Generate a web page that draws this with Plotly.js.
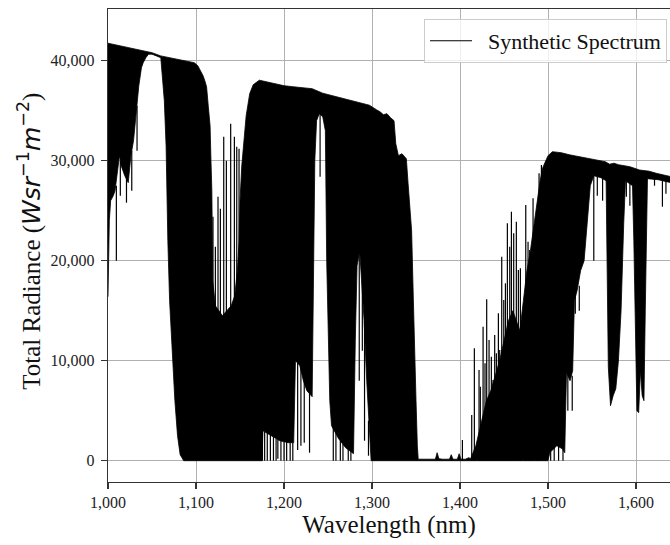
<!DOCTYPE html>
<html>
<head>
<meta charset="utf-8">
<script src="https://cdn.plot.ly/plotly-3.0.1.min.js"></script>
<style>
  html, body { margin: 0; padding: 0; background: #fff; overflow: hidden; }
  #chart { width: 670px; height: 545px; }
</style>
</head>
<body>
<div id="chart"></div>
<script>
// Upper envelope of the spectrum (nm, W sr^-1 m^-2)
const upperWl = [1000,1010,1020,1030,1040,1050,1060,1070,1080,1090,1098,1102,1105,1108,1110,1112,1114,1116,1117,1118,1119,1122,1126,1130,1135,1140,1144,1147,1149,1150,1152,1154,1157,1161,1165,1172,1180,1190,1200,1210,1220,1232,1244,1258,1271,1284,1297,1305,1309,1313,1317,1321,1325,1327,1330,1334,1339,1341,1343,1345,1347,1348.5,1350,1351.5,1352.5,1360,1372,1374,1376,1380,1388,1390,1392,1397,1399,1401,1406,1410,1412,1418,1422,1426,1430,1435,1440,1445,1450,1455,1460,1464,1468,1472,1476,1480,1484,1488,1491,1494,1497,1500,1505,1515,1524,1536,1555,1565,1570,1575,1580,1593,1604,1615,1623,1640];
const upperVal = [41750,41550,41350,41170,41000,40800,40480,40300,40150,39980,39800,39500,39000,38500,38000,37400,35400,33500,30000,27000,18000,15500,15000,14500,15000,15500,16500,19000,22000,26000,29500,31400,34500,36700,37600,38050,37900,37700,37500,37400,37300,37200,36750,36450,36150,35850,35550,35100,34900,34600,34700,34300,34000,31700,30500,30700,30200,27700,25000,23000,16000,10000,6000,1500,150,150,150,800,200,150,150,600,150,150,700,150,150,300,200,1500,3000,4500,6000,7000,8500,10000,12000,14000,15000,14000,13000,16000,19000,21000,23500,26000,28000,29300,29900,30500,30900,30800,30600,30400,30070,29900,29650,29750,29600,29400,29070,28950,28740,28400];

// Lower envelope of the dense line mass
const lowerWl = [1000,1001.5,1003,1006,1008,1011,1013,1015,1019,1023,1026,1029,1032,1035,1038,1040,1043,1046,1050,1055,1060,1062,1064,1066,1068,1070,1073,1076,1079,1082,1086,1175,1176,1185,1195,1205,1211,1213,1218,1222,1226,1232,1233.5,1235,1237,1240,1244,1247,1248.5,1250,1252,1254,1262,1270,1279,1281,1283,1286,1288,1291,1294,1297,1299,1500,1502,1510,1516,1519,1520,1521,1525,1528,1530,1533,1537,1541,1545,1548,1552,1560,1566,1567.5,1568.5,1571,1574,1577,1580,1583,1586,1588,1596,1597.5,1599,1601,1603,1605,1607,1609,1610.5,1611.5,1613,1625,1640];
const lowerVal = [16400,24000,26000,26500,27000,29000,30500,29500,28500,27800,30500,32000,35000,37500,39300,39800,40300,40650,40650,40480,40300,38500,36000,31500,22000,16000,11000,6000,2500,600,0,0,3000,2500,2000,1800,1800,10000,9500,8000,7000,6400,15000,30000,34000,34700,34400,33000,20000,14400,6000,3500,2200,1300,700,12000,19500,21000,19000,14000,8000,3000,0,0,800,1500,1200,800,5000,8800,8000,9000,16000,17000,19000,20000,24000,27500,28500,28300,28000,20000,9400,5500,6500,7200,10000,15000,23700,28000,27500,22000,16000,5000,4800,9000,6500,6000,15000,22000,28200,28100,27800];

// Individual strong lines standing out of the mass
const spikeWl  = [1009.5,1014,1021,1027,1033,1119.3,1122,1125,1127.7,1131.5,1134.5,1139.4,1143.6,1146.3,1148.9,1175.5,1178,1181,1184.5,1188,1191,1193,1196.5,1200,1203,1207,1210,1215.5,1219.2,1223,1229,1241,1256,1259,1264,1267,1273,1276,1285.5,1289,1291.5,1296,1402.7,1413.3,1416.3,1421.6,1423.1,1426.2,1428.4,1430.3,1433,1435.6,1437.5,1439.4,1441.3,1443.6,1445.1,1447.4,1449.7,1451.6,1453.8,1456.5,1458.4,1461,1464,1466.3,1468.6,1474.7,1477.3,1479.2,1483,1486.8,1489.8,1492.5,1497.4,1503,1507,1512,1517,1522.5,1527.5,1531,1535.5,1552,1556,1562,1589,1593,1621,1630,1634];
const spikeTop = [27500,30000,28400,31000,35500,24400,21400,26400,25200,32400,30000,33700,32400,31400,31200,3000,2900,2800,2600,2400,2200,2100,2000,1900,1900,1800,1800,9800,9400,8000,6800,34700,3400,2900,2000,1700,1200,1000,21000,18000,14000,4000,2070,4570,11240,9070,7400,13400,9740,16140,12070,10400,8070,12570,10740,14740,11070,20400,16070,17740,23740,21400,24900,22740,23900,19070,19240,25570,21900,21070,26240,24400,28740,29570,29740,900,1400,1500,1100,8800,8500,27000,17500,28500,28400,28300,28000,27800,28200,28000,28000];
const spikeBot = [20000,26500,25800,27000,31000,12000,12000,12000,12000,12000,12000,12000,12000,12000,20000,0,0,0,0,0,0,200,0,0,0,0,0,1070,1500,1800,800,28400,0,0,0,0,0,0,8000,11000,2000,500,0,0,0,0,0,0,0,0,0,0,0,0,0,0,0,0,0,0,0,0,0,0,0,0,0,0,0,0,0,0,0,0,0,0,0,0,0,5000,5000,14700,15000,20000,26500,26000,26400,25500,27500,25400,26700];

const xTickVals = [1000,1100,1200,1300,1400,1500,1600];
const yTickVals = [0,10000,20000,30000,40000];

// Build the closed band polygon and the line segments
const bandX = upperWl.concat(lowerWl.slice().reverse());
const bandY = upperVal.concat(lowerVal.slice().reverse());
const sx = [], sy = [];
spikeWl.forEach((w, i) => { sx.push(w, w, null); sy.push(spikeTop[i], spikeBot[i], null); });

const serif = "'Liberation Serif', 'Times New Roman', serif";

const traces = [
  { x: bandX, y: bandY, type: 'scatter', mode: 'lines', fill: 'toself',
    fillcolor: '#000000', line: { color: '#000000', width: 0.8 },
    showlegend: false, hoverinfo: 'skip' },
  { x: sx, y: sy, type: 'scatter', mode: 'lines', name: '\u00a0\u00a0Synthetic Spectrum',
    line: { color: '#000000', width: 1.2 }, connectgaps: false, showlegend: true }
];

const layout = {
  width: 670, height: 545,
  margin: { l: 108, r: 0, t: 9, b: 63 },
  paper_bgcolor: '#ffffff', plot_bgcolor: '#ffffff',
  font: { family: serif, color: '#222222', size: 16 },
  showlegend: true,
  legend: {
    x: 0.9947, xanchor: 'right', y: 0.979, yanchor: 'top',
    bgcolor: 'rgba(255,255,255,0.8)', bordercolor: '#cccccc', borderwidth: 1,
    font: { family: serif, size: 22, color: '#111111' }, itemwidth: 42
  },
  xaxis: {
    range: [1000, 1638.6], tickvals: xTickVals, tickformat: ',',
    showgrid: true, gridcolor: '#b0b0b0', gridwidth: 1, zeroline: false,
    showline: true, linecolor: '#333333', linewidth: 1.2, mirror: true,
    ticks: 'outside', ticklen: 6, tickwidth: 1.2, tickcolor: '#333333',
    tickfont: { family: serif, size: 16, color: '#222222' },
    title: { text: 'Wavelength (nm)', font: { family: serif, size: 25, color: '#111111' }, standoff: 4 }
  },
  yaxis: {
    range: [-2130, 45170], tickvals: yTickVals, tickformat: ',',
    showgrid: true, gridcolor: '#b0b0b0', gridwidth: 1, zeroline: false,
    showline: true, linecolor: '#333333', linewidth: 1.2, mirror: false,
    ticks: 'outside', ticklen: 6, tickwidth: 1.2, tickcolor: '#333333',
    ticklabelstandoff: 3,
    tickfont: { family: serif, size: 16, color: '#222222' }
  },
  annotations: [{
    xref: 'paper', yref: 'paper', x: -0.1388, y: 0.51,
    xanchor: 'center', yanchor: 'middle', textangle: -90, showarrow: false,
    font: { family: serif, size: 25, color: '#111111' },
    text: "Total Radiance (<span style=\"font-family:'DejaVu Sans'\"><i>Wsr</i><sup>−1</sup><i>m</i><sup>−2</sup></span>)"
  }]
};

Plotly.newPlot('chart', traces, layout, { staticPlot: true, displayModeBar: false });
</script>
</body>
</html>
